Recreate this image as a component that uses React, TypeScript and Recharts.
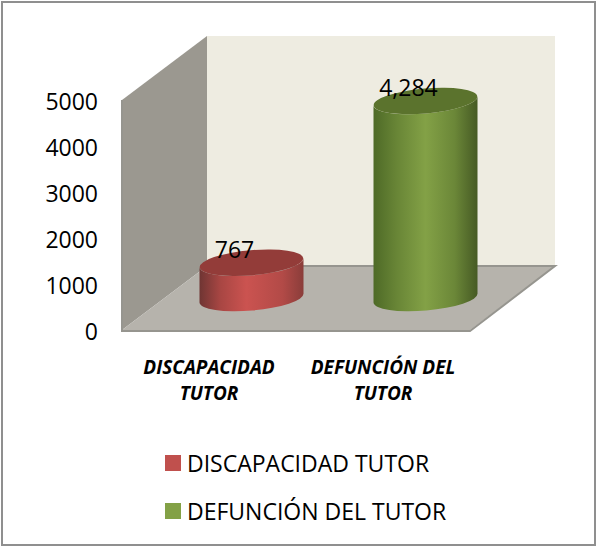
import { BarChart, Bar, XAxis, YAxis, Legend, LabelList } from 'recharts'

const categories = ['DISCAPACIDAD TUTOR', 'DEFUNCIÓN DEL TUTOR']
const discapacidadValues = [767, null]
const defuncionValues = [null, 4284]
const yTicks = [0, 1000, 2000, 3000, 4000, 5000]

const data = categories.map((name, i) => ({
  name,
  discapacidad: discapacidadValues[i],
  defuncion: defuncionValues[i],
}))

const WIDTH = 597
const HEIGHT = 547
const FONT = '"Open Sans", sans-serif'

// front plane of the fake 3d box
const LEFT = 122
const RIGHT = 470
const TOP = 100
const BOTTOM = 330
const DEPTH_X = 85
const DEPTH_Y = 64

const pts = (list: number[][]) => list.map((p) => p.join(',')).join(' ')

function Room() {
  const backL = LEFT + DEPTH_X
  const backR = RIGHT + DEPTH_X
  const backT = TOP - DEPTH_Y
  const backB = BOTTOM - DEPTH_Y
  return (
    <g>
      <rect x={2} y={2} width={WIDTH - 4} height={HEIGHT - 4} fill="#fff" stroke="#8f8f8f" strokeWidth={2} />
      <rect x={backL} y={backT} width={RIGHT - LEFT} height={BOTTOM - TOP} fill="#EEECE1" />
      <polygon points={pts([[LEFT, TOP], [backL, backT], [backL, backB], [LEFT, BOTTOM]])} fill="#9B9890" />
      <polygon
        points={pts([[LEFT, BOTTOM], [backL, backB], [backR, backB], [RIGHT, BOTTOM]])}
        fill="#B6B3AC"
      />
      <polyline
        points={pts([[LEFT, TOP], [LEFT, BOTTOM + 1], [RIGHT, BOTTOM + 1], [backR, backB], [backL, backB]])}
        fill="none"
        stroke="#96958f"
        strokeWidth={2}
      />
    </g>
  )
}

function cylinder(topId: string, sideId: string) {
  return (props: any) => {
    const { x, y, width, height } = props
    if (!height || height <= 0) return null
    const cx = x + width / 2 + DEPTH_X / 2
    const top = y - DEPTH_Y / 2
    const bot = y + height - DEPTH_Y / 2
    const rx = width / 2
    const ry = 12.5
    const tilt = 4.5
    const side = `M${cx - rx},${top + tilt} L${cx - rx},${bot + tilt} A${rx},${ry} -5 0 0 ${cx + rx},${bot - tilt} L${cx + rx},${top - tilt} A${rx},${ry} -5 0 1 ${cx - rx},${top + tilt} Z`
    return (
      <g>
        <path d={side} fill={`url(#${sideId})`} />
        <ellipse cx={cx} cy={top} rx={rx} ry={ry} fill={topId} transform={`rotate(-5 ${cx} ${top})`} />
      </g>
    )
  }
}

function valueLabel(props: any) {
  const { x, y, width, value } = props
  if (!value) return null
  return (
    <text
      x={x + width / 2 + DEPTH_X / 2 - 17}
      y={y - DEPTH_Y / 2 - 5}
      textAnchor="middle"
      fontFamily={FONT}
      fontSize={23}
      fill="#000"
    >
      {value.toLocaleString('en-US')}
    </text>
  )
}

function CategoryTick(props: any) {
  const { x, payload } = props
  const words = payload.value.split(' ')
  const last = words.pop()
  return (
    <text x={x} textAnchor="middle" fontFamily={FONT} fontSize={19} fontWeight={700} fontStyle="italic" fill="#000">
      <tspan x={x} y={374}>{words.join(' ')}</tspan>
      <tspan x={x} y={400}>{last}</tspan>
    </text>
  )
}

function LegendBox(props: any) {
  const payload = props.payload || []
  const items = categories.map((c) => payload.find((p: any) => p.value === c)).filter(Boolean)
  return (
    <div style={{ fontFamily: FONT, fontSize: 23, color: '#000' }}>
      {items.map((item: any) => (
        <div key={item.value} style={{ display: 'flex', alignItems: 'center', height: 48, whiteSpace: 'nowrap' }}>
          <span style={{ width: 16, height: 16, background: item.color, marginRight: 6 }} />
          {item.value}
        </div>
      ))}
    </div>
  )
}

export default function App() {
  return (
    <div style={{ position: 'absolute', left: 0, top: 0 }}>
      <BarChart
        width={WIDTH}
        height={HEIGHT}
        data={data}
        barSize={104}
        margin={{ top: TOP, right: WIDTH - RIGHT, bottom: HEIGHT - BOTTOM - 60, left: 0 }}
      >
        <defs>
          <linearGradient id="redSide" x1="0" y1="0" x2="1" y2="0">
            <stop offset="0%" stopColor="#6f3533" />
            <stop offset="20%" stopColor="#A84643" />
            <stop offset="45%" stopColor="#CB5350" />
            <stop offset="80%" stopColor="#B24A47" />
            <stop offset="100%" stopColor="#8a3d3a" />
          </linearGradient>
          <linearGradient id="greenSide" x1="0" y1="0" x2="1" y2="0">
            <stop offset="0%" stopColor="#4E6A27" />
            <stop offset="22%" stopColor="#688536" />
            <stop offset="50%" stopColor="#83A146" />
            <stop offset="78%" stopColor="#6B8738" />
            <stop offset="100%" stopColor="#465A24" />
          </linearGradient>
        </defs>
        <Room />
        <XAxis dataKey="name" height={60} axisLine={false} tickLine={false} tick={<CategoryTick />} interval={0} />
        <YAxis
          width={LEFT}
          domain={[0, 5000]}
          ticks={yTicks}
          interval={0}
          axisLine={false}
          tickLine={false}
          tickSize={0}
          tickMargin={24}
          tick={{ fontFamily: FONT, fontSize: 23, fill: '#000', dy: 2 }}
        />
        <Legend
          layout="vertical"
          align="center"
          verticalAlign="middle"
          content={<LegendBox />}
          wrapperStyle={{ left: 165, top: 439, bottom: 'auto', width: 320 }}
        />
        <Bar
          dataKey="discapacidad"
          name="DISCAPACIDAD TUTOR"
          stackId="a"
          fill="#C0504D"
          shape={cylinder('#933C39', 'redSide')}
          isAnimationActive={false}
        >
          <LabelList dataKey="discapacidad" content={valueLabel} />
        </Bar>
        <Bar
          dataKey="defuncion"
          name="DEFUNCIÓN DEL TUTOR"
          stackId="a"
          fill="#83A146"
          shape={cylinder('#5B732D', 'greenSide')}
          isAnimationActive={false}
        >
          <LabelList dataKey="defuncion" content={valueLabel} />
        </Bar>
      </BarChart>
    </div>
  )
}
